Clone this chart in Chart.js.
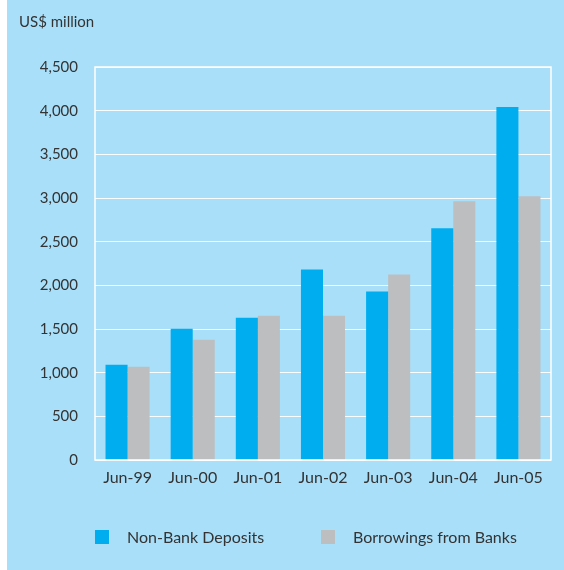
<!DOCTYPE html>
<html>
<head>
<meta charset="utf-8">
<script src="https://cdn.jsdelivr.net/npm/chart.js@4.4.0/dist/chart.umd.min.js"></script>
<style>
    html, body {
        margin: 0;
        padding: 0;
    }
    body {
        width: 564px;
        height: 570px;
        background: linear-gradient(to right, #ffffff 0, #ffffff 7px, #aadff9 7px);
        font-family: Lato, "Open Sans", sans-serif;
        color: #333333;
        position: relative;
        overflow: hidden;
    }
    #wrap {
        position: absolute;
        left: 0;
        top: 0;
        width: 564px;
        height: 570px;
    }
    #unit {
        position: absolute;
        left: 19px;
        top: 12px;
        font-size: 15px;
    }
    #legend {
        position: absolute;
        left: 95px;
        top: 527px;
        font-size: 16px;
        display: flex;
    }
    .item {
        display: flex;
        align-items: center;
    }
    .swatch {
        width: 14px;
        height: 14px;
        margin-right: 18px;
    }
</style>
</head>
<body>
<div id="wrap"><canvas id="chart" width="564" height="570"></canvas></div>
<div id="unit">US$ million</div>
<div id="legend"></div>
<script>
// ===== DATA =====
const periods = ['Jun-99', 'Jun-00', 'Jun-01', 'Jun-02', 'Jun-03', 'Jun-04', 'Jun-05'];
const nonBankDeposits = [1090, 1504, 1630, 2182, 1929, 2653, 4043];
const bankBorrowings = [1067, 1378, 1653, 1653, 2124, 2963, 3020];
const seriesNames = ['Non-Bank Deposits', 'Borrowings from Banks'];
const seriesColors = ['#00aeef', '#bcbec0'];
const yTicks = [0, 500, 1000, 1500, 2000, 2500, 3000, 3500, 4000, 4500];

const textColor = '#333333';
const fontFamily = 'Lato, "Open Sans", sans-serif';

// white frame around the plot area
const plotFrame = {
    id: 'plotFrame',
    afterDatasetsDraw(chart) {
        const a = chart.chartArea;
        const ctx = chart.ctx;
        ctx.save();
        ctx.strokeStyle = '#ffffff';
        ctx.lineWidth = 1.5;
        ctx.strokeRect(a.left, a.top, a.right - a.left, a.bottom - a.top);
        ctx.restore();
    }
};

const canvas = document.getElementById('chart');
const chart = new Chart(canvas.getContext('2d'), {
    type: 'bar',
    data: {
        labels: periods,
        datasets: [
            {
                label: seriesNames[0],
                data: nonBankDeposits,
                backgroundColor: seriesColors[0],
                borderWidth: 0
            },
            {
                label: seriesNames[1],
                data: bankBorrowings,
                backgroundColor: seriesColors[1],
                borderWidth: 0
            }
        ]
    },
    options: {
        responsive: false,
        animation: false,
        layout: {
            padding: { top: 67, right: 13, bottom: 70, left: 0 }
        },
        plugins: {
            legend: { display: false },
            tooltip: { enabled: false }
        },
        datasets: {
            bar: {
                categoryPercentage: 0.677,
                barPercentage: 1.0
            }
        },
        scales: {
            x: {
                grid: { display: false },
                border: { display: false },
                ticks: {
                    color: textColor,
                    padding: 0,
                    font: { family: fontFamily, size: 16 }
                },
                afterFit(scale) {
                    scale.height = 40;
                }
            },
            y: {
                min: 0,
                max: 4500,
                afterBuildTicks(scale) {
                    scale.ticks = yTicks.map(v => ({ value: v }));
                },
                grid: {
                    color: 'rgba(255,255,255,0.95)',
                    lineWidth: 1,
                    drawTicks: false
                },
                border: { display: false },
                ticks: {
                    color: textColor,
                    padding: 17,
                    font: { family: fontFamily, size: 15 },
                    callback: v => v.toLocaleString('en-US')
                },
                afterFit(scale) {
                    scale.width = 95;
                }
            }
        }
    },
    plugins: [plotFrame]
});

// legend built from the datasets
const legend = document.getElementById('legend');
chart.data.datasets.forEach((ds, i) => {
    const item = document.createElement('div');
    item.className = 'item';
    item.style.width = i === 0 ? '226px' : 'auto';
    const sw = document.createElement('span');
    sw.className = 'swatch';
    sw.style.background = ds.backgroundColor;
    const txt = document.createElement('span');
    txt.textContent = ds.label;
    item.appendChild(sw);
    item.appendChild(txt);
    legend.appendChild(item);
});
</script>
</body>
</html>
